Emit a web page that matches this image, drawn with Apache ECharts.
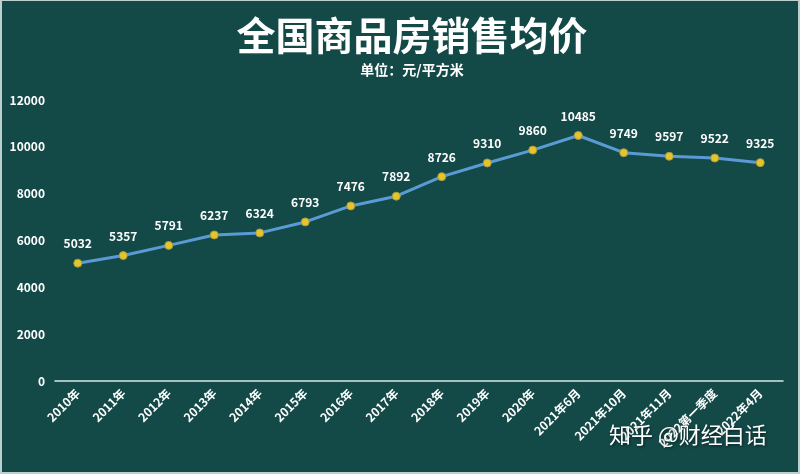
<!DOCTYPE html>
<html><head><meta charset="utf-8">
<script src="https://cdn.jsdelivr.net/npm/echarts@6/dist/echarts.min.js"></script>
<style>
html,body{margin:0;padding:0;background:#bcd0cf;}
#c{width:796px;height:471px;margin:1px 0 0 2px;background:#134a48;}
</style></head>
<body><div id="c"></div>
<script>
var categories = ['2010年','2011年','2012年','2013年','2014年','2015年','2016年','2017年','2018年','2019年','2020年','2021年6月','2021年10月','2021年11月','2022第一季度','2022年4月'];
var prices = [5032,5357,5791,6237,6324,6793,7476,7892,8726,9310,9860,10485,9749,9597,9522,9325];
var yTicks = {min:0, max:12000, interval:2000};
var titleText = '全国商品房销售均价';
var subText = '单位：元/平方米';
var watermark = '知乎 @财经白话';

var chart = echarts.init(document.getElementById('c'));
var ff = '"Noto Sans CJK SC","Noto Sans",sans-serif';
chart.setOption({
  backgroundColor: '#134a48',
  textStyle: {fontFamily: ff},
  title: {
    text: titleText, subtext: subText, left: 405, textAlign: 'center', top: 10, itemGap: 8,
    textStyle: {color:'#fff', fontSize:39, fontWeight:'bold', fontFamily: ff},
    subtextStyle: {color:'#fff', fontSize:14, fontWeight:'bold', fontFamily: ff}
  },
  grid: {left: 53, right: 15, top: 99, bottom: 91},
  xAxis: {
    type: 'category', data: categories, boundaryGap: true,
    axisLine: {lineStyle: {color:'#d8e8e6', width:1.5}},
    axisTick: {show:false},
    axisLabel: {color:'#fff', fontWeight:'bold', fontSize:12, rotate:45, interval:0, margin:10, fontFamily: ff}
  },
  yAxis: {
    type: 'value', min: yTicks.min, max: yTicks.max, interval: yTicks.interval,
    splitLine: {show:false}, axisLine: {show:false}, axisTick: {show:false},
    axisLabel: {color:'#fff', fontWeight:'bold', fontSize:12, margin:10, fontFamily: ff,
      formatter: function(v){ return String(v); }}
  },
  series: [{
    type: 'line', data: prices, symbol: 'circle', symbolSize: 8,
    lineStyle: {color:'#5b9bd5', width:3},
    itemStyle: {color:'#e6c42c', borderColor:'#a89a40', borderWidth:1},
    label: {show:true, position:'top', distance:9, color:'#fff', fontWeight:'bold', fontSize:12, fontFamily: ff},
    z: 3
  }],
  graphic: [{
    type:'text', left: 607, top: 423, z: 100,
    style: {text: watermark, fill:'#fff', fontSize:22, fontFamily: ff,
      textShadowColor:'rgba(0,0,0,0.6)', textShadowBlur:3, textShadowOffsetX:1, textShadowOffsetY:1}
  }],
  animation: false
});
</script></body></html>
